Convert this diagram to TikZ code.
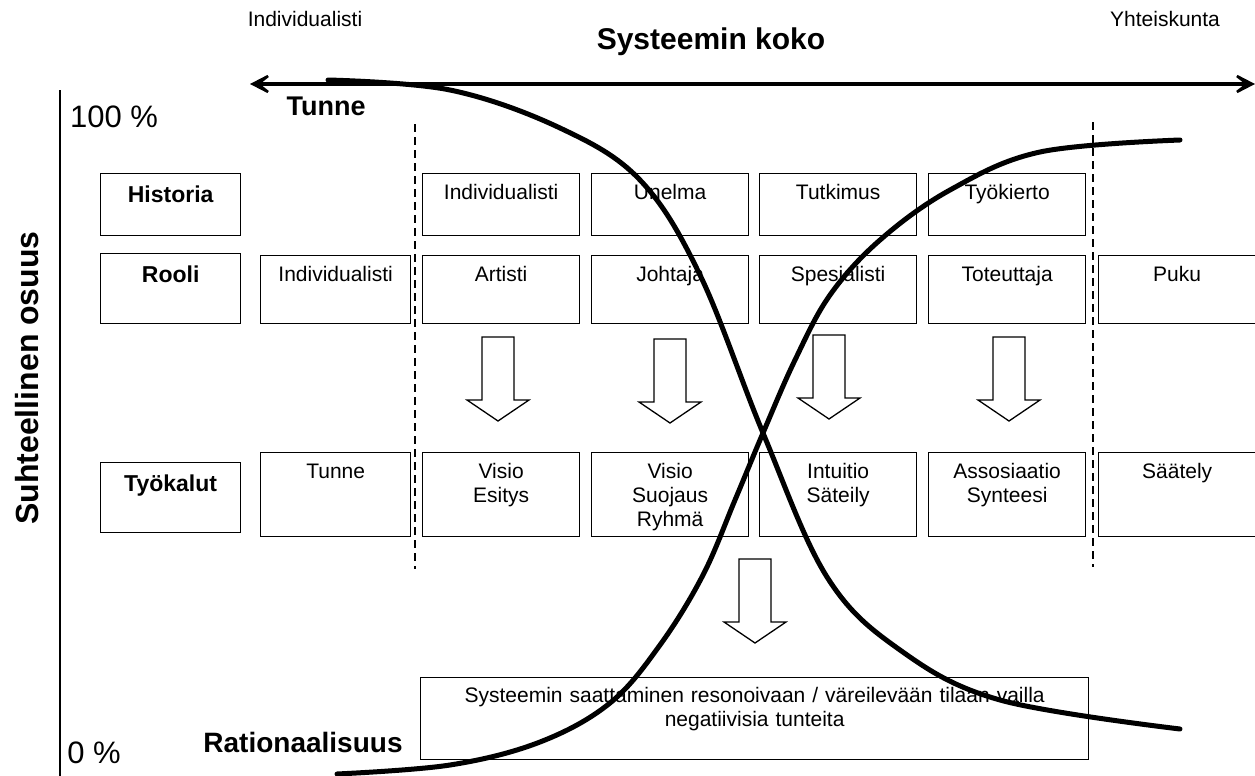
\documentclass[tikz,border=0pt]{standalone}
\usepackage{fontspec}
\setmainfont{Liberation Sans}
\usetikzlibrary{arrows.meta}
\newcommand{\cellfont}{\fontsize{21}{24}\selectfont}
\newcommand{\rowheadfont}{\fontsize{23}{26}\selectfont\bfseries}

\begin{document}
\begin{tikzpicture}[
    x=1pt, y=-1pt,
    cell/.style={draw, line width=1.3pt, anchor=north west, align=center, font=\cellfont, inner xsep=2pt, inner ysep=5pt, text height=21pt, text width=153pt},
    histcell/.style={cell, text depth=31pt},
    roolcell/.style={cell, text depth=37pt},
    toolcell/.style={cell, text depth=53pt},
    rowhead/.style={cell, font=\rowheadfont, text height=24pt, text width=136pt},
    small/.style={font=\cellfont, anchor=base, inner sep=0pt},
    bigbold/.style={font=\fontsize{#1}{#1}\selectfont\bfseries, anchor=base, inner sep=0pt},
    percent/.style={font=\fontsize{31}{31}\selectfont, anchor=base, inner sep=0pt},
    sep/.style={line width=1.5pt, dash pattern=on 8pt off 5pt},
    axisarr/.style={line width=4pt, {Stealth[length=29pt, width=30pt, inset=19pt]}-{Stealth[length=29pt, width=30pt, inset=19pt]}},
    curve/.style={line width=5pt, line cap=round},
    downarr/.pic={\draw[line width=1.3pt, line join=miter] (-16,0) -- (16,0) -- (16,63) -- (31,63) -- (0,84) -- (-31,63) -- (-16,63) -- cycle;},
]
    \useasboundingbox (0,0) rectangle (1255,776);

    % === AXES ===
    \coordinate (small) at (250,84);
    \coordinate (large) at (1255,84);
    \draw[axisarr] (small) -- (large);
    \coordinate (ytop) at (60,90);
    \coordinate (ybot) at (60,776);
    \draw[line width=1.5pt] (ytop) -- (ybot);

    \node[small] (indiv) at (305,27) {Individualisti};
    \node[small] (yht) at (1165,27) {Yhteiskunta};
    \node[bigbold=30] (koko) at (711,49) {Systeemin koko};
    \node[bigbold=27] (tunne) at (326,115) {Tunne};
    \node[bigbold=28] (rat) at (303,752) {Rationaalisuus};
    \node[percent] (full) at (114,127) {100 \%};
    \node[percent] (zero) at (94,763) {0 \%};
    \node[font=\fontsize{32}{32}\selectfont\bfseries, rotate=90, inner sep=0pt] (osuus) at (27,378) {Suhteellinen osuus};

    % === ROW HEADS ===
    \node[rowhead, text depth=28pt] (historia) at (100,173) {Historia};
    \node[rowhead, text depth=36pt] (rooli) at (100,253) {Rooli};
    \node[rowhead, text depth=36pt] (tyokalut) at (100,462) {Työkalut};

    % === HISTORIA ROW ===
    \node[histcell] (hIndiv) at (422,173) {Individualisti};
    \node[histcell] (hUnelma) at (591,173) {Unelma};
    \node[histcell] (hTutkimus) at (759,173) {Tutkimus};
    \node[histcell] (hTyokierto) at (928,173) {Työkierto};

    % === ROOLI ROW ===
    \node[roolcell, text width=146pt] (rIndiv) at (260,255) {Individualisti};
    \node[roolcell] (rArtisti) at (422,255) {Artisti};
    \node[roolcell] (rJohtaja) at (591,255) {Johtaja};
    \node[roolcell] (rSpesialisti) at (759,255) {Spesialisti};
    \node[roolcell] (rToteuttaja) at (928,255) {Toteuttaja};
    \node[roolcell] (rPuku) at (1098,255) {Puku};

    % === TYOKALUT ROW ===
    \node[toolcell, text width=146pt] (tTunne) at (260,452) {Tunne};
    \node[toolcell] (tEsitys) at (422,452) {Visio\\Esitys};
    \node[toolcell] (tSuojaus) at (591,452) {Visio\\Suojaus\\Ryhmä};
    \node[toolcell] (tIntuitio) at (759,452) {Intuitio\\Säteily};
    \node[toolcell] (tSynteesi) at (928,452) {Assosiaatio\\Synteesi};
    \node[toolcell] (tSaately) at (1098,452) {Säätely};

    % === GOAL ===
    \node[cell, text width=664pt, text height=20pt, text depth=52pt] (goal) at (420,677) {Systeemin saattaminen resonoivaan / väreilevään tilaan vailla\\negatiivisia tunteita};

    % === BLOCK ARROWS ===
    \pic (aArtisti) at (498,337) {downarr};
    \pic (aJohtaja) at (670,339) {downarr};
    \pic (aSpesialisti) at (829,335) {downarr};
    \pic (aToteuttaja) at (1009,337) {downarr};
    \pic (aGoal) at (755,559) {downarr};

    % === SEPARATORS ===
    \coordinate (sepAtop) at (415,124);
    \coordinate (sepAbot) at (415,569);
    \coordinate (sepBtop) at (1093,122);
    \coordinate (sepBbot) at (1093,567);
    \draw[sep] (sepAtop) -- (sepAbot);
    \draw[sep] (sepBtop) -- (sepBbot);

    % === CURVES ===
    \draw[curve] plot[smooth, tension=0.6] coordinates {(328,80) (450,90) (560,128) (640,180) (700,275) (763,433) (827,577) (900,650) (1000,700) (1180,729)};
    \draw[curve] plot[smooth, tension=0.6] coordinates {(337,774) (450,765) (540,742) (610,703) (660,645) (703,575) (735,500) (763,433) (795,360) (830,295) (880,240) (950,190) (1040,152) (1180,140)};
\end{tikzpicture}
\end{document}
